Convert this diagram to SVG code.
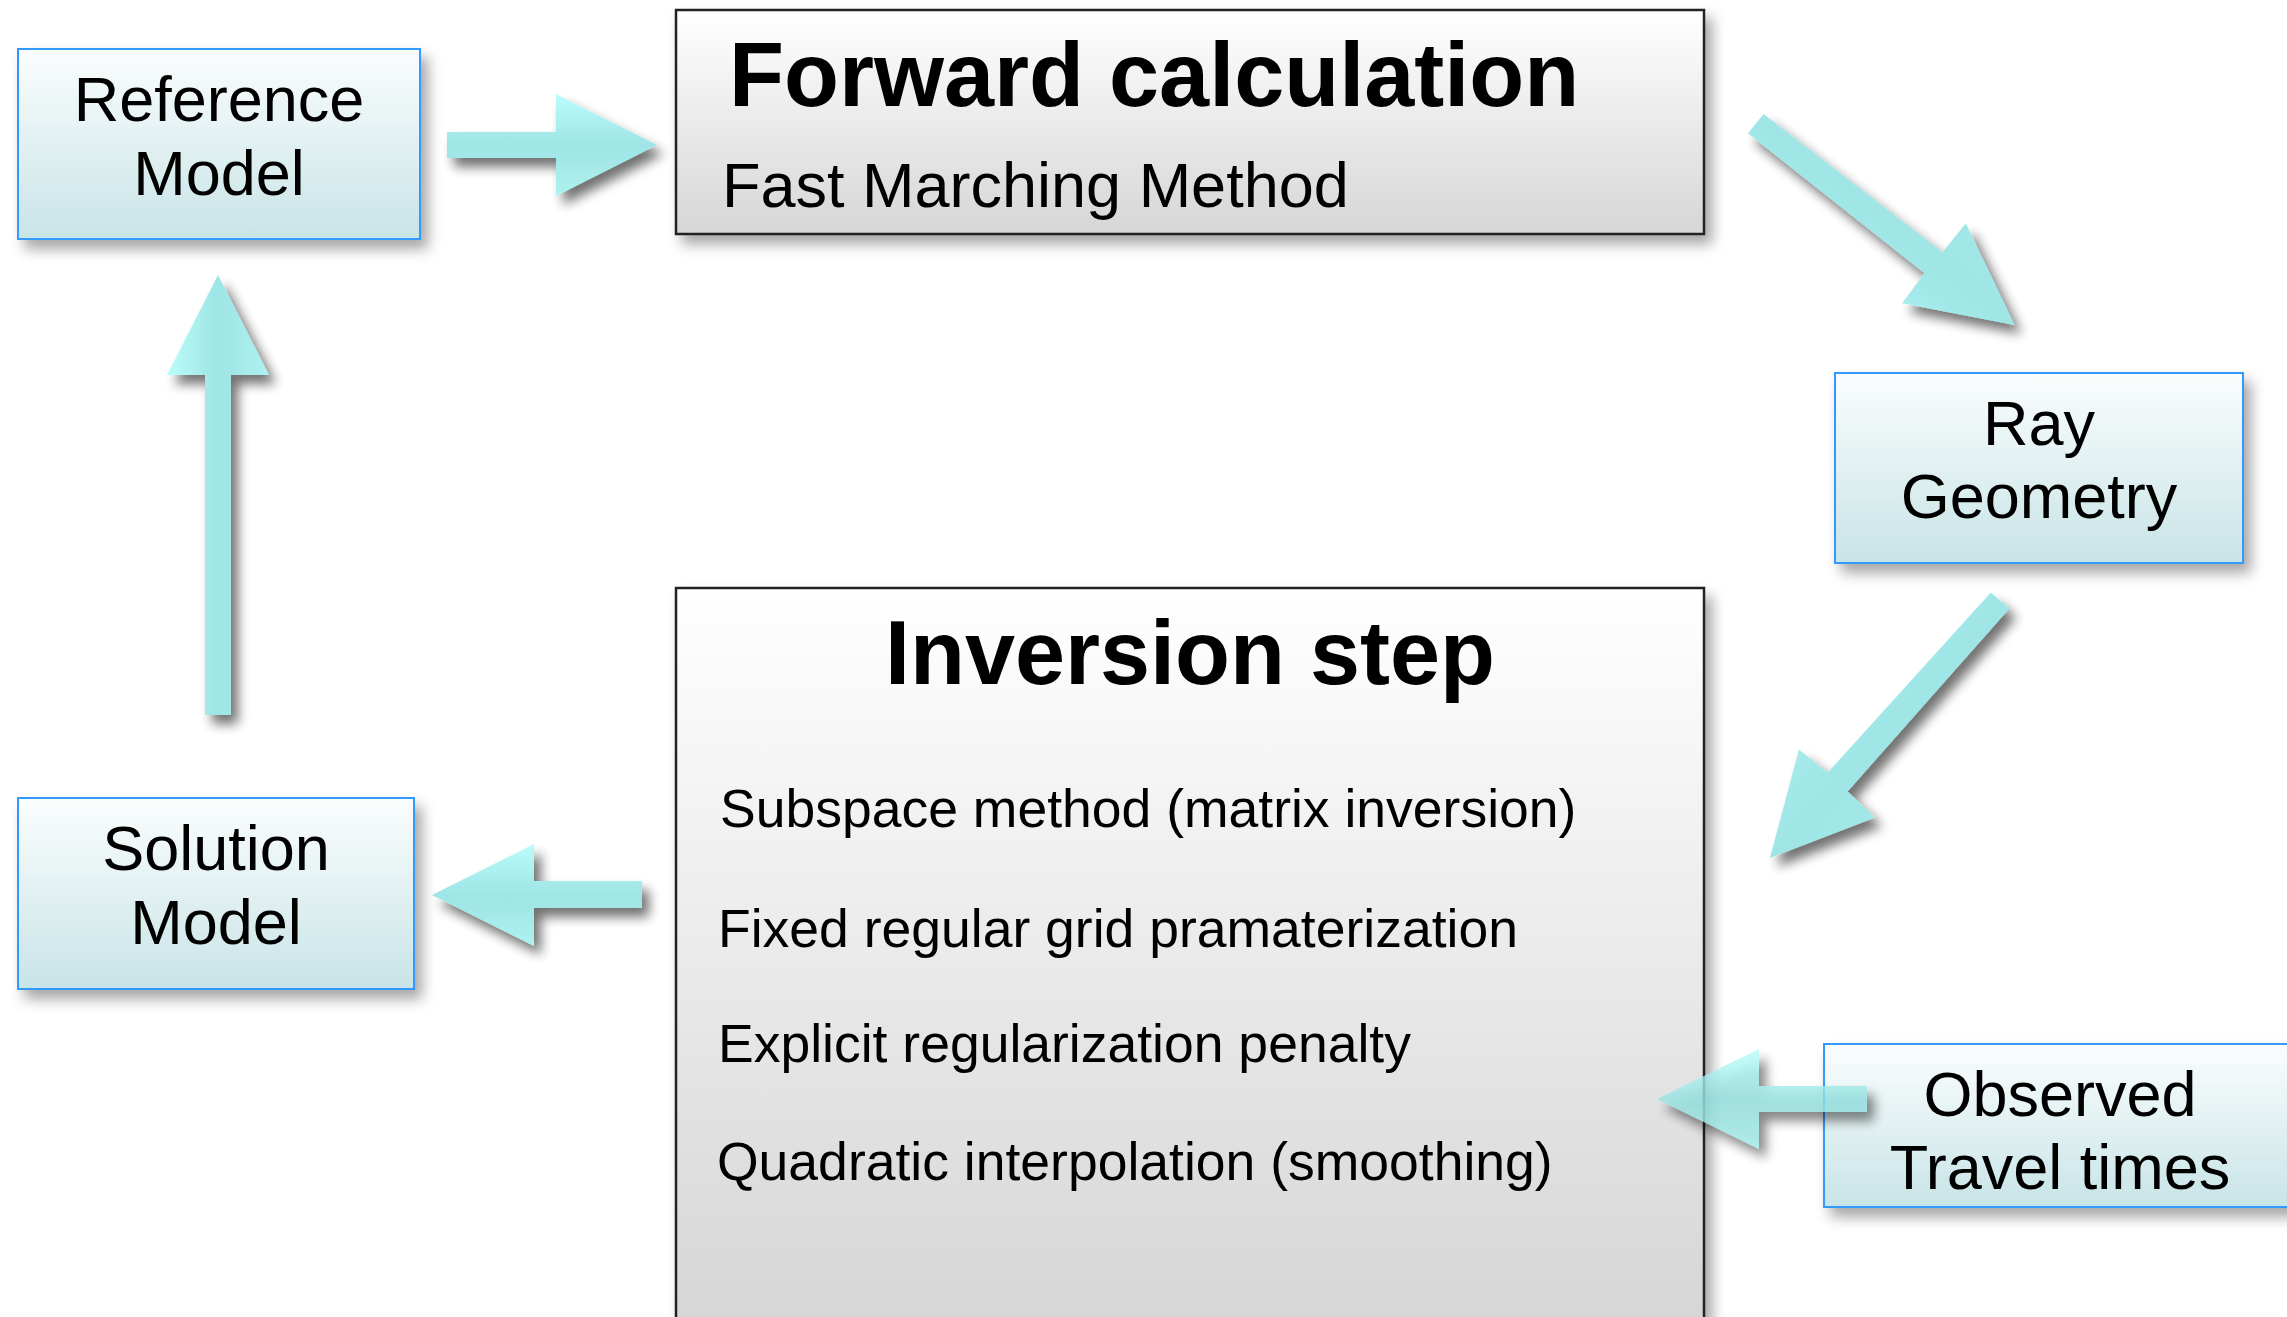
<svg xmlns="http://www.w3.org/2000/svg" width="2287" height="1317" viewBox="0 0 2287 1317">
  <defs>
    <linearGradient id="blueFill" x1="0" y1="0" x2="0" y2="1">
      <stop offset="0" stop-color="#fbfdfd"/>
      <stop offset="1" stop-color="#c8e4e7"/>
    </linearGradient>
    <linearGradient id="greyFillTop" x1="0" y1="0" x2="0" y2="1">
      <stop offset="0" stop-color="#ffffff"/>
      <stop offset="1" stop-color="#d6d6d6"/>
    </linearGradient>
    <linearGradient id="greyFillBottom" gradientUnits="userSpaceOnUse" x1="0" y1="588" x2="0" y2="1317">
      <stop offset="0" stop-color="#ffffff"/>
      <stop offset="1" stop-color="#d6d6d6"/>
    </linearGradient>
    <!-- arrow fills: light edge, darker core -->
    <linearGradient id="arrowH" x1="0" y1="0" x2="0" y2="1">
      <stop offset="0" stop-color="#b6fcfc"/>
      <stop offset="0.5" stop-color="#97e3e3"/>
      <stop offset="1" stop-color="#a8f0f0"/>
    </linearGradient>
    <linearGradient id="arrowV" x1="0" y1="0" x2="1" y2="0">
      <stop offset="0" stop-color="#b6fcfc"/>
      <stop offset="0.5" stop-color="#97e3e3"/>
      <stop offset="1" stop-color="#a8f0f0"/>
    </linearGradient>
    <linearGradient id="arrowD1" x1="0" y1="1" x2="1" y2="0">
      <stop offset="0" stop-color="#b6fcfc"/>
      <stop offset="0.5" stop-color="#97e3e3"/>
      <stop offset="1" stop-color="#a8f0f0"/>
    </linearGradient>
    <linearGradient id="arrowD2" x1="0" y1="0" x2="1" y2="1">
      <stop offset="0" stop-color="#b6fcfc"/>
      <stop offset="0.5" stop-color="#97e3e3"/>
      <stop offset="1" stop-color="#a8f0f0"/>
    </linearGradient>
    <filter id="boxShadow" x="-10%" y="-10%" width="130%" height="140%">
      <feDropShadow dx="7" dy="9" stdDeviation="7" flood-color="#000" flood-opacity="0.35"/>
    </filter>
    <filter id="arrowShadow" x="-20%" y="-20%" width="150%" height="150%">
      <feDropShadow dx="7" dy="9" stdDeviation="6" flood-color="#000" flood-opacity="0.6"/>
    </filter>
  </defs>
  <style>
    .blue { fill: url(#blueFill); stroke: #3399ff; stroke-width: 2; }
    .grey { stroke: #222222; stroke-width: 2.5; }
    .lbl { font-family: "Liberation Sans", Arial, sans-serif; font-size: 63px; fill: #000; text-anchor: middle; }
    .title { font-family: "Liberation Sans", Arial, sans-serif; font-size: 90px; font-weight: bold; fill: #000; }
    .sub { font-family: "Liberation Sans", Arial, sans-serif; font-size: 63px; fill: #000; }
    .item { font-family: "Liberation Sans", Arial, sans-serif; font-size: 53.5px; fill: #000; }
    .arrow { filter: url(#arrowShadow); opacity: 0.92; }
  </style>

  <rect width="2287" height="1317" fill="#ffffff"/>

  <g id="reference-model" filter="url(#boxShadow)">
    <rect class="blue" x="18" y="49" width="402" height="190"/>
    <text class="lbl" x="219" y="121">Reference</text>
    <text class="lbl" x="219" y="195">Model</text>
  </g>

  <g id="forward-calculation" filter="url(#boxShadow)">
    <rect class="grey" x="676" y="10" width="1028" height="224" fill="url(#greyFillTop)"/>
    <text class="title" x="729" y="106">Forward calculation</text>
    <text class="sub" x="722" y="207">Fast Marching Method</text>
  </g>

  <g id="ray-geometry" filter="url(#boxShadow)">
    <rect class="blue" x="1835" y="373" width="408" height="190"/>
    <text class="lbl" x="2039" y="445">Ray</text>
    <text class="lbl" x="2039" y="518">Geometry</text>
  </g>

  <g id="inversion-step" filter="url(#boxShadow)">
    <rect class="grey" x="676" y="588" width="1028" height="760" fill="url(#greyFillBottom)"/>
    <text class="title" x="1190" y="684" text-anchor="middle">Inversion step</text>
    <text class="item" x="720" y="827">Subspace method (matrix inversion)</text>
    <text class="item" x="718" y="947">Fixed regular grid pramaterization</text>
    <text class="item" x="718" y="1062">Explicit regularization penalty</text>
    <text class="item" x="717" y="1180">Quadratic interpolation (smoothing)</text>
  </g>

  <g id="solution-model" filter="url(#boxShadow)">
    <rect class="blue" x="18" y="798" width="396" height="191"/>
    <text class="lbl" x="216" y="870">Solution</text>
    <text class="lbl" x="216" y="944">Model</text>
  </g>

  <g id="observed-travel-times" filter="url(#boxShadow)">
    <rect class="blue" x="1824" y="1044" width="480" height="163"/>
    <text class="lbl" x="2060" y="1116">Observed</text>
    <text class="lbl" x="2060" y="1189">Travel times</text>
  </g>

  <g id="connectors">
    <!-- Reference Model to Forward calculation -->
    <g class="arrow"><polygon fill="url(#arrowH)" points="447,132 556,132 556,94 657,145 556,196 556,158 447,158"/></g>
    <!-- Forward calculation to Ray Geometry -->
    <g class="arrow"><polygon fill="url(#arrowD1)" points="1763.6,114 1942.6,252.3 1965.8,223.3 2014.5,325 1902,303.3 1924.6,273.3 1748,133.3"/></g>
    <!-- Ray Geometry to Inversion step -->
    <g class="arrow"><polygon fill="url(#arrowD2)" points="1990.8,592.4 1827.8,772.5 1798.9,749.4 1770,858 1875.2,817.6 1847.6,791.5 2009.4,608.4"/></g>
    <!-- Observed Travel times to Inversion step -->
    <g class="arrow"><polygon fill="url(#arrowH)" points="1867,1086 1759,1086 1759,1049 1657,1099 1759,1149 1759,1112 1867,1112" opacity="0.85"/></g>
    <!-- Inversion step to Solution Model -->
    <g class="arrow"><polygon fill="url(#arrowH)" points="642,881 534,881 534,844 432,895 534,946 534,908 642,908"/></g>
    <!-- Solution Model back to Reference Model -->
    <g class="arrow"><polygon fill="url(#arrowV)" points="231,715 231,375 269,375 218,275 167,375 205,375 205,715"/></g>
  </g>
</svg>
